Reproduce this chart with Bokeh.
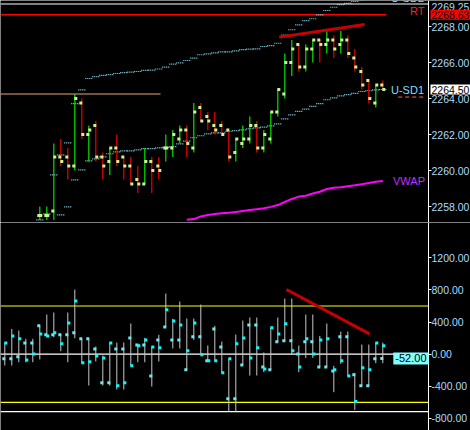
import math
from bokeh.plotting import figure
from bokeh.layouts import column
from bokeh.models import Range1d, FixedTicker, NumeralTickFormatter, ColumnDataSource, Label
from bokeh.transform import dodge
from bokeh.embed import file_html
from bokeh.resources import INLINE

NaN = float("nan")

# ---------------- price panel data (bar index 0..49) ----------------
price_bars = list(range(50))
price_open = [2257.50, 2257.50, 2257.75, 2260.75, 2260.75, 2260.25, 2263.75, 2262.00, 2262.50, 2260.75,
              2260.50, 2261.25, 2260.75, 2260.25, 2259.50, 2259.25, 2260.50, 2260.25, 2261.25, 2261.25,
              2261.75, 2262.25, 2261.25, 2263.50, 2263.00, 2262.50, 2262.50, 2262.25, 2261.00, 2261.50,
              2261.75, 2262.50, 2261.25, 2261.75, 2263.25, 2264.25, 2266.00, 2267.00, 2265.75, 2266.75,
              2267.25, 2267.00, 2267.25, 2267.00, 2267.25, 2266.25, 2265.50, 2265.00, 2263.75, 2264.75]
price_high = [2258.00, 2258.00, 2261.50, 2261.75, 2261.25, 2264.25, 2264.00, 2262.50, 2262.75, 2261.00,
              2261.25, 2262.00, 2260.75, 2260.75, 2260.25, 2261.25, 2260.75, 2260.75, 2262.00, 2262.25,
              2262.50, 2262.50, 2263.75, 2263.75, 2263.25, 2263.25, 2262.75, 2262.25, 2261.75, 2262.50,
              2263.00, 2262.75, 2262.25, 2263.25, 2264.50, 2266.50, 2267.25, 2267.00, 2267.00, 2267.25,
              2267.25, 2267.75, 2267.50, 2267.75, 2267.50, 2266.75, 2265.75, 2265.00, 2264.75, 2265.00]
price_low = [2257.25, 2257.25, 2257.25, 2260.25, 2259.50, 2260.00, 2261.75, 2260.50, 2260.50, 2259.50,
             2259.75, 2260.25, 2259.50, 2259.25, 2258.75, 2259.25, 2258.75, 2259.50, 2260.50, 2260.75,
             2261.50, 2260.75, 2261.00, 2262.75, 2262.25, 2262.00, 2262.00, 2260.50, 2260.50, 2261.25,
             2261.50, 2261.00, 2261.00, 2261.50, 2263.00, 2264.00, 2265.25, 2265.50, 2265.50, 2266.00,
             2266.00, 2266.50, 2266.25, 2266.50, 2266.25, 2265.50, 2264.50, 2263.75, 2263.50, 2264.50]
price_close = [2257.50, 2257.50, 2260.75, 2260.50, 2260.25, 2264.00, 2262.00, 2262.25, 2260.75, 2260.25,
               2261.25, 2260.50, 2260.25, 2259.25, 2259.25, 2260.50, 2260.00, 2260.00, 2261.25, 2262.00,
               2262.25, 2261.50, 2263.25, 2262.75, 2262.75, 2262.25, 2262.00, 2260.75, 2261.75, 2261.75,
               2262.50, 2261.25, 2262.00, 2263.25, 2264.50, 2266.00, 2266.75, 2265.75, 2266.75, 2267.25,
               2267.00, 2267.25, 2266.75, 2267.25, 2266.50, 2265.75, 2264.75, 2264.00, 2264.75, 2264.50]

# VWAP +1 SD band (U-SD1) and +2 SD band (U-SD2), per bar (NaN = off the visible scale)
usd1 = [NaN, NaN, NaN, 2257.54, 2257.98, 2259.48, 2260.04, 2260.54, 2260.65, 2260.76,
        2260.93, 2261.04, 2261.09, 2261.09, 2261.15, 2261.21, 2261.21, 2261.26, 2261.28, 2261.33,
        2261.48, 2261.63, 2261.82, 2261.93, 2262.04, 2262.09, 2262.09, 2262.18, 2262.22, 2262.26,
        2262.32, 2262.37, 2262.41, 2262.48, 2262.59, 2262.87, 2263.09, 2263.28, 2263.41, 2263.56,
        2263.71, 2263.93, 2264.04, 2264.15, 2264.22, 2264.29, 2264.39, 2264.43, 2264.48, 2264.50]
usd2 = [2257.26, 2257.59, 2259.76, 2260.87, 2261.54, 2263.71, 2264.48, 2265.11, 2265.22, 2265.28,
        2265.33, 2265.39, 2265.44, 2265.47, 2265.50, 2265.56, 2265.58, 2265.64, 2265.74, 2265.91,
        2265.98, 2266.11, 2266.24, 2266.43, 2266.48, 2266.54, 2266.59, 2266.59, 2266.65, 2266.71,
        2266.74, 2266.76, 2266.89, 2266.94, 2267.07, 2267.52, 2267.82, 2268.09, 2268.33, 2268.43,
        2268.65, 2268.89, 2269.07, 2269.22, 2269.29, 2269.39, 2269.48, 2269.52, 2269.56, 2269.58]

vwap_bars = list(range(21, 50))
vwap = [2257.26, 2257.30, 2257.45, 2257.53, 2257.58, 2257.62, 2257.65, 2257.70, 2257.75,
        2257.80, 2257.85, 2257.90, 2257.98, 2258.08, 2258.25, 2258.42, 2258.55, 2258.60, 2258.72,
        2258.82, 2258.97, 2259.04, 2259.07, 2259.13, 2259.18, 2259.24, 2259.30, 2259.37, 2259.42]

price_ticks = [2258, 2260, 2262, 2264, 2266, 2268]
rt_level = 2268.65          # "RT" line
rt_end_bar = 49.5
top_level = 2269.25         # top white line / label
orange_level = 2264.25      # earlier level line
orange_end_bar = 17.25
marker_level = 2264.08      # short dashed marker near U-SD1 label
marker_bars = [51.2, 55.1]
last_price = 2264.50
price_trend_x = [34.2, 46.4]
price_trend_y = [2267.41, 2268.11]

# ---------------- delta panel data (bar index -5..49) ----------------
delta_bars = list(range(-5, 50))
delta_open = [-58, -58, -33, 141, 141,
              353, 241, 241, 241, 241, 266, 191, 191, 66, -357,
              -357, 66, 66, 203, 116, 116, -270, 178, 340, 178,
              178, -195, 216, 216, -83, 315, 91, -556, -556, -133,
              365, 365, -158, -195, 154, 166, 166, 4, 154, 154,
              -158, -158, -208, 216, 216, -257, -394, -394, -58, -52]
delta_high = [141, 315, 295, 191, 191,
              353, 494, 519, 253, 519, 805, 191, 191, 95, -17,
              149, 145, 145, 382, 129, 203, 91, 241, 755, 440,
              656, 444, 444, 618, 108, 353, 158, -58, 245, 419,
              457, 457, 21, 328, 457, 693, 693, 108, 494, 494,
              228, 382, -145, 282, 282, -232, 120, 120, 145, 145]
delta_low = [-141, -141, -100, -100, -100,
             -66, 212, 212, 37, -100, 199, -108, -390, -91, -390,
             -390, -440, -440, -145, -100, -100, -403, -91, 340, 71,
             71, -195, 178, -8, -83, -83, -232, -718, -718, -133,
             -266, -266, -224, -195, 154, 154, -8, -224, -46, -46,
             -158, -158, -473, -120, -270, -693, -398, -398, -112, -112]
delta_close = [141, 228, 191, -71, 4,
               253, 228, 266, 129, 390, 664, -108, -95, -21, -46,
               141, -394, -357, -145, 104, 178, 91, 79, 552, 415,
               365, 42, 390, -8, -83, -83, -232, -58, 129, 203,
               -46, 79, -183, 328, 253, 378, 42, -158, 191, 4,
               178, 191, -195, -83, -270, -589, -170, -195, 141, 104]
delta_ticks = [-800, -400, 0, 400, 800, 1200]
delta_yellow = [600, -600]
delta_white = [0, -715]
delta_last = -52
delta_trend_x = [35.24, 47.09]
delta_trend_y = [806, 254]

# ---------------- styling ----------------
FONT = "Liberation Sans"
FS = "10.5px"
PX_PER_BAR = 7.0
X_START = -39.3 / PX_PER_BAR          # left edge of the chart
X_AXIS = (428 - 39.3) / PX_PER_BAR     # where the value scale sits
X_END = (470 - 39.3) / PX_PER_BAR      # right edge of the window
GREEN, RED = "#00e400", "#ee0000"
SQ_PRICE = "#ccf490"
BAND = "#90ecff"
AXIS_TXT = "#a8dcff"


def base_fig(height, yr):
    p = figure(width=470, height=height, x_range=Range1d(X_START, X_END), y_range=yr,
               x_axis_location=None, y_axis_location="right", toolbar_location=None,
               output_backend="svg", background_fill_color="black", border_fill_color="black",
               min_border_left=0, min_border_right=0, min_border_top=0, min_border_bottom=0)
    p.outline_line_color = None
    p.grid.visible = False
    ax = p.yaxis[0]
    ax.fixed_location = X_AXIS
    ax.axis_line_color = "white"
    ax.major_tick_line_color = "white"
    ax.major_tick_in = 0
    ax.major_tick_out = 3
    ax.minor_tick_line_color = None
    ax.major_label_standoff = 0
    ax.major_label_text_color = AXIS_TXT
    ax.major_label_text_font = FONT
    ax.major_label_text_font_size = FS
    ax.formatter = NumeralTickFormatter(format="0.00")
    return p


def hline(p, level, x0, color, width=1.0, dash="solid"):
    p.segment(x0=[x0], x1=[X_AXIS], y0=[level], y1=[level], line_color=color,
              line_width=width, line_dash=dash)


# ================= price panel =================
p1 = base_fig(222, Range1d(2268 - 196 / 18.0, 2268 + 26 / 18.0))
p1.yaxis[0].ticker = FixedTicker(ticks=price_ticks)

hline(p1, top_level, X_START, "white")
p1.segment(x0=[X_START], x1=[rt_end_bar], y0=[rt_level], y1=[rt_level], line_color="#ff0000", line_width=1.5)
p1.segment(x0=[X_START], x1=[orange_end_bar], y0=[orange_level], y1=[orange_level],
           line_color="#f0a080", line_width=1)
p1.segment(x0=[marker_bars[0]], x1=[marker_bars[1]], y0=[marker_level], y1=[marker_level],
           line_color="#ff6a30", line_width=1, line_dash="4 3")


def band_source(vals):
    xs = [b for b, v in zip(price_bars, vals) if not math.isnan(v)]
    ys = [v for v in vals if not math.isnan(v)]
    return ColumnDataSource(dict(x0=[b - 0.5 for b in xs], x1=[b + 0.5 for b in xs], y=ys))


for vals in (usd1, usd2):
    p1.segment(x0="x0", x1="x1", y0="y", y1="y", source=band_source(vals),
               line_color=BAND, line_width=1.2, line_dash="1 1")

p1.line(vwap_bars, vwap, line_color="#ff00ff", line_width=2)

pcol = [GREEN if c >= o else RED for o, c in zip(price_open, price_close)]
psrc = ColumnDataSource(dict(x=price_bars, o=price_open, h=price_high, l=price_low, c=price_close, col=pcol))
p1.segment(x0="x", x1="x", y0="l", y1="h", line_color="col", line_width=1.2, source=psrc)
p1.rect(x=dodge("x", -1 / PX_PER_BAR), y="o", width=3, height=3, width_units="screen",
        height_units="screen", fill_color=SQ_PRICE, line_color=None, source=psrc)
p1.rect(x=dodge("x", 1 / PX_PER_BAR), y="c", width=3, height=3, width_units="screen",
        height_units="screen", fill_color=SQ_PRICE, line_color=None, source=psrc)

p1.line(price_trend_x, price_trend_y, line_color="#c80000", line_width=3)

lbl = dict(text_font=FONT, text_font_size="11px")
lbl_small = dict(text_font=FONT, text_font_size=FS)
p1.add_layout(Label(x=X_AXIS, y=usd1[-1], text="U-SD1", x_offset=-4.5, text_align="right",
                    text_baseline="middle", text_color="#7fdfff", **lbl))
p1.add_layout(Label(x=X_AXIS, y=usd2[-1], text="U-SD2", x_offset=-4.5, text_align="right",
                    text_baseline="middle", text_color="#7fdfff", **lbl))
p1.add_layout(Label(x=X_AXIS, y=vwap[-1], text="VWAP", x_offset=-3.5, text_align="right",
                    text_baseline="middle", text_color="#c030ff", **lbl))
p1.add_layout(Label(x=X_AXIS, y=rt_level, text="RT", x_offset=-4, y_offset=4, text_align="right",
                    text_baseline="alphabetic", text_color="#ff2020", **lbl))
p1.add_layout(Label(x=X_AXIS, y=top_level, text="2269.25", x_offset=3, y_offset=-2.5, text_align="left",
                    text_baseline="middle", text_color=AXIS_TXT, **lbl_small))
p1.add_layout(Label(x=X_AXIS, y=rt_level, text="2268.63", x_offset=2, text_align="left",
                    text_baseline="middle", text_color="black", background_fill_color="#ff0000",
                    padding=1, **lbl_small))
p1.add_layout(Label(x=X_AXIS, y=last_price, text="%.2f" % last_price, x_offset=2, text_align="left",
                    text_baseline="middle", text_color="black", background_fill_color="white",
                    padding=1, **lbl_small))

# ================= delta panel =================
p2 = base_fig(208, Range1d(-76.3 / 0.0803, 131.7 / 0.0803))
p2.yaxis[0].ticker = FixedTicker(ticks=delta_ticks)

for lv in delta_yellow:
    hline(p2, lv, X_START, "#ffff00", 1.2)
for lv in delta_white:
    hline(p2, lv, X_START, "white", 1.2)

dsrc = ColumnDataSource(dict(x=delta_bars, o=delta_open, h=delta_high, l=delta_low, c=delta_close))
p2.segment(x0="x", x1="x", y0="l", y1="h", line_color="#c8c8c8", line_width=1, source=dsrc)
p2.rect(x=dodge("x", -1 / PX_PER_BAR), y="o", width=3, height=3, width_units="screen",
        height_units="screen", fill_color="#70e8ec", line_color=None, source=dsrc)
p2.rect(x=dodge("x", 1 / PX_PER_BAR), y="c", width=3, height=3, width_units="screen",
        height_units="screen", fill_color="#00ffff", line_color=None, source=dsrc)

p2.line(delta_trend_x, delta_trend_y, line_color="#c80000", line_width=3)

p2.add_layout(Label(x=X_AXIS, y=delta_last, text="%.2f" % delta_last, x_offset=0, text_align="right",
                    text_baseline="middle", text_color="black", background_fill_color="#80ffff",
                    padding=2, **lbl))

layout = column(p1, p2, spacing=0)

open("out.html", "w").write(file_html(layout, INLINE))
